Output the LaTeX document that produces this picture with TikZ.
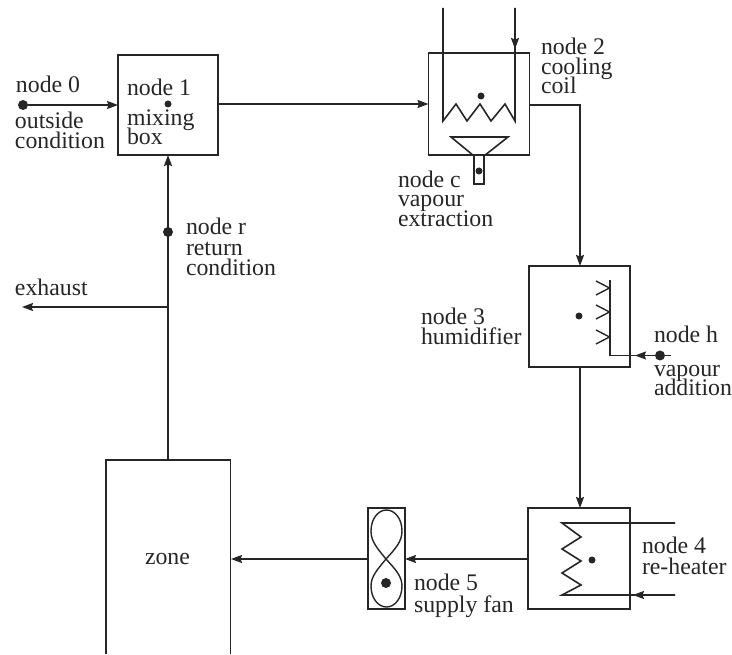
\documentclass[tikz,border=0pt]{standalone}
\usepackage{fontspec}
\setmainfont{Liberation Serif}
\usetikzlibrary{arrows.meta}
\definecolor{ink}{gray}{0.15}
\tikzset{
  box/.style={draw=ink,line width=1.7pt,inner sep=0pt,outer sep=0pt,minimum width=#1},
  box/.default=101pt,
  line/.style={draw=ink,line width=1.6pt},
  flow/.style={line,-{Stealth[length=11pt,width=8pt,inset=1.5pt]}},
  dotb/.style={circle,fill=ink,inner sep=0pt,minimum size=10pt},
  dots/.style={circle,fill=ink,inner sep=0pt,minimum size=7pt},
  lab/.style={anchor=base west,inner sep=0pt,outer sep=0pt,text=ink,font=\fontsize{23.8}{20}\selectfont},
  thin line/.style={draw=ink,line width=1.4pt}
}
\begin{document}
\begin{tikzpicture}[x=1pt,y=-1pt]
\useasboundingbox (0,0) rectangle (732,655);
% boxes
\node[box=100pt,minimum height=100pt] (b1) at (168,105) {};
\node[box=101pt,minimum height=102pt] (b2) at (479,104) {};
\node[box=101pt,minimum height=101pt] (b3) at (579.5,316.5) {};
\node[box=102pt,minimum height=101pt] (b4) at (579,558.5) {};
\node[box=37pt,minimum height=101pt] (fan) at (386.5,558.5) {};
% zone: open at the bottom
\coordinate (zbl) at (106,654); \coordinate (ztl) at (106,460);
\coordinate (ztr) at (230.5,460); \coordinate (zbr) at (230.5,654);
\draw[line,line width=1.7pt] (zbl) -- (ztl) -- (ztr) -- (zbr);
\coordinate (ztm) at (168,460);
\coordinate (zrm) at (231,559);
% dots
\node[dotb] (n0) at (23,105) {};
\node[dots] (n1) at (168,104) {};
\node[dots] (n2) at (481,96) {};
\node[dots] (nc) at (479,171) {};
\node[dots] (n3) at (579,316) {};
\node[dotb] (nh) at (660,355.5) {};
\node[dots] (n4) at (592,560) {};
\node[dotb] (n5) at (386,583) {};
\node[dotb] (nr) at (168,232) {};
% main connectors
\draw[flow] (n0) -- (b1.west |- n0);
\draw[flow] (b1.east |- n1) -- (b2.west |- n1);
\coordinate (c2) at (580,105);
\draw[flow] (b2.east |- c2) -- (c2) -- (c2 |- b3.north);
\coordinate (b3b) at (580,367);
\draw[flow] (b3b) -- (b3b |- b4.north);
\coordinate (b4w) at (528,559);
\draw[flow] (b4w) -- (fan.east |- b4w);
\coordinate (fw) at (368,559);
\draw[flow] (fw) -- (zrm);
\draw[flow] (ztm) -- (ztm |- b1.south);
\coordinate (ex) at (168,307); \coordinate (exend) at (22,307);
\draw[flow] (ex) -- (exend);
% cooling coil
\coordinate (pa) at (443,8); \coordinate (pb) at (515,8);
\coordinate (pbm) at (515,49);
\draw[line] (pa) -- (443,121) -- (456,104) -- (467,121) -- (480,104) -- (491,121) -- (505,104) -- (515,121) -- (pb);
\draw[flow] (pb) -- (pbm);
% funnel
\draw[line] (451,137) -- (508,137) -- (484,156) -- (484,184) -- (474,184) -- (474,156) -- cycle;
% humidifier
\coordinate (hend) at (670.5,355.5); \coordinate (hm) at (635,355.5);
\draw[line] (610,280) -- (610,355.5) -- (hend);
\draw[flow] (nh) -- (hm);
\foreach \yy in {288,312,337}
  \draw[thin line] (596,\yy-7) -- (609.5,\yy) -- (596,\yy+7);
% re-heater
\coordinate (rt) at (675,523); \coordinate (rb) at (675,595); \coordinate (rm) at (633,595);
\draw[line] (rt) -- (562,523) -- (581,537) -- (562,549) -- (581,561) -- (562,573) -- (581,585) -- (562,595) -- (rb);
\draw[flow] (rb) -- (rm);
% fan figure-of-eight
\draw[thin line] (386,559)
  .. controls (378,549) and (371,542) .. (371,531)
  .. controls (371,519) and (378,510) .. (386.5,510)
  .. controls (395,510) and (402,519) .. (402,531)
  .. controls (402,542) and (395,549) .. (386,559)
  .. controls (378,569) and (371,576) .. (371,586)
  .. controls (371,598) and (378,607) .. (386.5,607)
  .. controls (395,607) and (402,598) .. (402,586)
  .. controls (402,576) and (395,569) .. (386,559) -- cycle;
% labels
\node[lab] (t0) at (16,93) {node 0};
\node[lab] (t0a) at (15,129) {outside};
\node[lab] (t0b) at (15,149) {condition};
\node[lab] (t1) at (127,96) {node 1};
\node[lab] (t1a) at (127,126) {mixing};
\node[lab] (t1b) at (127,145) {box};
\node[lab] (tr) at (186,235) {node r};
\node[lab] (tra) at (186,256) {return};
\node[lab] (trb) at (186,276) {condition};
\node[lab] (tex) at (15,296) {exhaust};
\node[lab] (t2) at (541,55) {node 2};
\node[lab] (t2a) at (541,75) {cooling};
\node[lab] (t2b) at (541,94) {coil};
\node[lab] (tc) at (398,188) {node c};
\node[lab] (tca) at (398,207) {vapour};
\node[lab] (tcb) at (398,227) {extraction};
\node[lab] (t3) at (421,325) {node 3};
\node[lab] (t3a) at (421,345) {humidifier};
\node[lab] (th) at (654,343) {node h};
\node[lab] (tha) at (654,377) {vapour};
\node[lab] (thb) at (654,396) {addition};
\node[lab] (t4) at (642,553) {node 4};
\node[lab] (t4a) at (642,574) {re-heater};
\node[lab] (t5) at (414,590) {node 5};
\node[lab] (t5a) at (414,612) {supply fan};
\node[lab] (tz) at (145,564) {zone};
\end{tikzpicture}
\end{document}
